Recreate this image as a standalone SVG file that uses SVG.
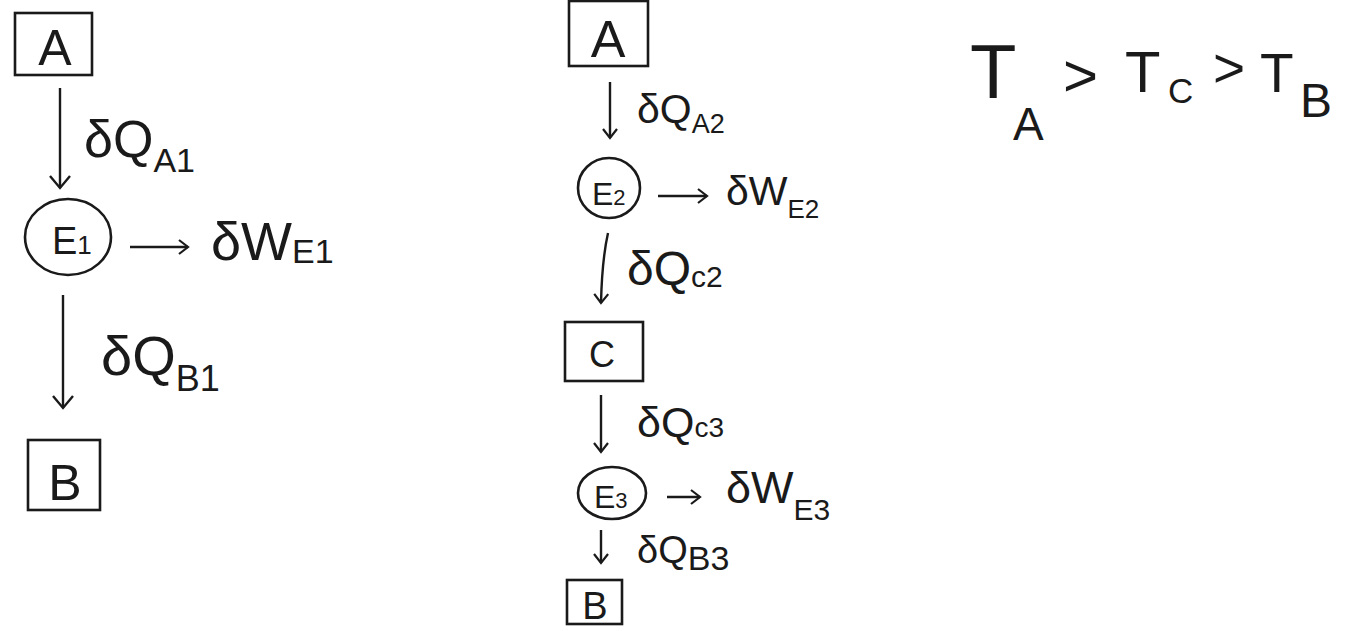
<svg xmlns="http://www.w3.org/2000/svg" width="1346" height="631" viewBox="0 0 1346 631">
<style>
text{font-family:"Liberation Sans","DejaVu Sans",sans-serif;fill:#1a1a1a}
.box,.ell{fill:none;stroke:#1a1a1a;stroke-width:2.6}
.c{text-anchor:middle}
.edge{fill:none;stroke:#1a1a1a;stroke-width:2.4}
</style>
<defs>
<marker id="ahL" markerUnits="userSpaceOnUse" markerWidth="26" markerHeight="26" viewBox="0 0 26 26" refX="22" refY="13" orient="auto">
<path d="M10,3 L22,13 L10,23" fill="none" stroke="#1a1a1a" stroke-width="2.4"/>
</marker>
<marker id="ahS" markerUnits="userSpaceOnUse" markerWidth="20" markerHeight="20" viewBox="0 0 20 20" refX="17" refY="10" orient="auto">
<path d="M8,3 L17,10 L8,17" fill="none" stroke="#1a1a1a" stroke-width="2.2"/>
</marker>
</defs>
<rect width="1346" height="631" fill="#ffffff"/>

<g id="connectors">
<line class="edge" x1="60" y1="88" x2="60" y2="188" marker-end="url(#ahL)"/>
<line class="edge" x1="130" y1="247" x2="188" y2="247" marker-end="url(#ahS)"/>
<line class="edge" x1="63" y1="295" x2="63" y2="408" marker-end="url(#ahL)"/>
<line class="edge" x1="610" y1="82" x2="610" y2="138" marker-end="url(#ahS)"/>
<line class="edge" x1="658" y1="196" x2="707" y2="196" marker-end="url(#ahS)"/>
<path class="edge" d="M608,233 Q602,260 601,303" marker-end="url(#ahS)"/>
<line class="edge" x1="601" y1="395" x2="601" y2="452" marker-end="url(#ahS)"/>
<line class="edge" x1="667" y1="497" x2="700" y2="497" marker-end="url(#ahS)"/>
<line class="edge" x1="601" y1="530" x2="601" y2="563" marker-end="url(#ahS)"/>
</g>

<g id="labels">
<text x="84" y="157" font-size="52">δQ<tspan y="172" font-size="34">A1</tspan></text>
<text x="211" y="260" font-size="54">δW<tspan y="263" font-size="34">E1</tspan></text>
<text x="101" y="375" font-size="56">δQ<tspan y="391" font-size="36">B1</tspan></text>
<text x="637" y="123" font-size="41">δQ<tspan y="133" font-size="27">A2</tspan></text>
<text x="726" y="205" font-size="41">δW<tspan y="218" font-size="26">E2</tspan></text>
<text x="627" y="285" font-size="48">δQ<tspan y="287" font-size="30">c2</tspan></text>
<text x="637" y="437" font-size="43">δQ<tspan y="437" font-size="28">c3</tspan></text>
<text x="726" y="503" font-size="45">δW<tspan y="520" font-size="30">E3</tspan></text>
<text x="637" y="563" font-size="38">δQ<tspan y="570" font-size="34">B3</tspan></text>
</g>

<g id="inequality">
<text x="970" y="98" font-size="76">T<tspan x="1013" y="140" font-size="46">A</tspan></text>
<text x="1063" y="96" font-size="60">&gt;</text>
<text x="1125" y="92" font-size="58">T<tspan x="1168" y="103" font-size="35">C</tspan></text>
<text x="1213" y="87" font-size="55">&gt;</text>
<text x="1260" y="92" font-size="55">T<tspan x="1300" y="117" font-size="48">B</tspan></text>
</g>

<g id="nodeA1">
<rect class="box" x="15" y="13" width="77" height="62"/>
<text class="c" x="55" y="65" font-size="50">A</text>
</g>
<g id="nodeE1">
<ellipse class="ell" cx="68" cy="237" rx="43" ry="38"/>
<text x="52" y="254" font-size="38">E<tspan font-size="26">1</tspan></text>
</g>
<g id="nodeB1">
<rect class="box" x="28" y="440" width="72" height="70"/>
<text class="c" x="65" y="500" font-size="50">B</text>
</g>

<g id="nodeA2">
<rect class="box" x="569" y="1" width="79" height="65"/>
<text class="c" x="608" y="57" font-size="52">A</text>
</g>
<g id="nodeE2">
<ellipse class="ell" cx="609" cy="188" rx="31" ry="30"/>
<text x="592" y="205" font-size="32">E<tspan font-size="22">2</tspan></text>
</g>
<g id="nodeC">
<rect class="box" x="565" y="322" width="78" height="59"/>
<text class="c" x="602" y="367" font-size="36">C</text>
</g>
<g id="nodeE3">
<ellipse class="ell" cx="612" cy="493" rx="34" ry="26"/>
<text x="594" y="508" font-size="32">E<tspan font-size="22">3</tspan></text>
</g>
<g id="nodeB3">
<rect class="box" x="567" y="580" width="55" height="44"/>
<text class="c" x="595" y="619" font-size="38">B</text>
</g>
</svg>
